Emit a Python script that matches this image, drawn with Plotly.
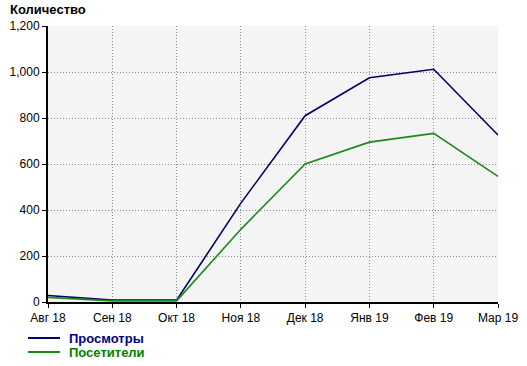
import plotly.graph_objects as go

months = ["Авг 18", "Сен 18", "Окт 18", "Ноя 18", "Дек 18", "Янв 19", "Фев 19", "Мар 19"]
views = [28, 8, 8, 430, 810, 975, 1012, 726]
visitors = [20, 5, 5, 316, 600, 695, 733, 546]
y_ticks = [0, 200, 400, 600, 800, 1000, 1200]
series_names = ["Просмотры", "Посетители"]

x = list(range(len(months)))
navy = "#000066"
green = "#1a8a1a"
text_colors = ["#000080", "#008000"]

W, H = 527, 366
L, R, T, B = 48, 29, 26, 64
pw, ph = W - L - R, H - T - B

def px_x(p):
    return (p - L) / pw

def px_y(p):
    return (H - B - p) / ph

fig = go.Figure()
fig.add_trace(go.Scatter(x=x, y=views, mode="lines", line=dict(color=navy, width=1.6),
                         name=series_names[0], showlegend=False))
fig.add_trace(go.Scatter(x=x, y=visitors, mode="lines", line=dict(color=green, width=1.6),
                         name=series_names[1], showlegend=False))

font = dict(family="Liberation Sans, Arial, sans-serif", size=12, color="#000000")

annotations = [dict(text="<b>Количество</b>", x=px_x(8), y=px_y(10), xref="paper", yref="paper",
                    showarrow=False, xanchor="left", yanchor="middle",
                    font=dict(family="Liberation Sans, Arial, sans-serif", size=13, color="#000000"))]
shapes = []
for i, (nm, lc, tc) in enumerate(zip(series_names, [navy, green], text_colors)):
    yy = 338 + 14 * i
    shapes.append(dict(type="line", xref="paper", yref="paper", x0=px_x(28), x1=px_x(60),
                       y0=px_y(yy), y1=px_y(yy), line=dict(color=lc, width=2)))
    annotations.append(dict(text=f"<b>{nm}</b>", x=px_x(67), y=px_y(yy), xref="paper", yref="paper",
                            showarrow=False, xanchor="left", yanchor="middle",
                            font=dict(family="Liberation Sans, Arial, sans-serif", size=13, color=tc)))

fig.update_layout(
    width=W, height=H,
    margin=dict(l=L, r=R, t=T, b=B, autoexpand=False),
    paper_bgcolor="white", plot_bgcolor="#f4f4f4",
    font=font,
    showlegend=False,
    annotations=annotations,
    shapes=shapes,
)
grid = dict(showgrid=True, gridcolor="#8c8c8c", griddash="1px,2px", gridwidth=1,
            showline=True, linecolor="black", linewidth=2,
            ticks="outside", ticklen=4, tickcolor="black", tickwidth=1,
            zeroline=False, tickfont=font, automargin=False)
fig.update_xaxes(range=[0, 7], tickvals=x, ticktext=months, **grid)
fig.update_yaxes(range=[0, 1200], tickvals=y_ticks, tickformat=",d", **grid)
fig.write_html("out.html", config={"displayModeBar": False},
               post_script="document.body.style.margin='0';document.body.style.overflow='hidden';")
